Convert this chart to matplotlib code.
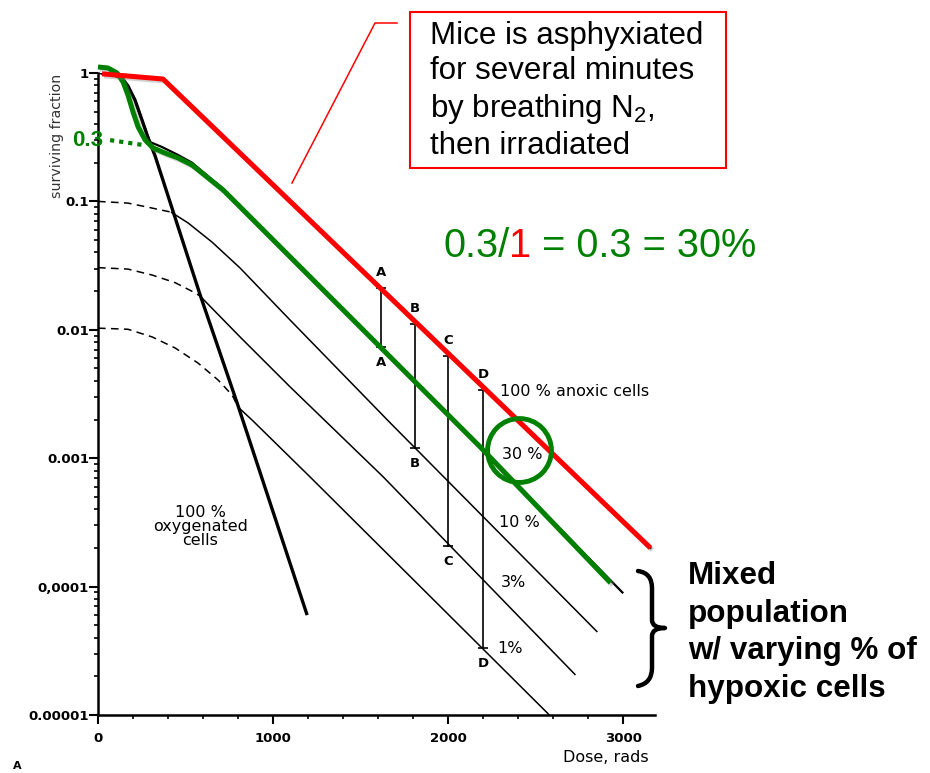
import matplotlib
matplotlib.use("Agg")
import matplotlib.pyplot as plt
import matplotlib.patheffects as pe
from matplotlib.patches import Rectangle, PathPatch
from matplotlib.path import Path
from matplotlib.lines import Line2D

plt.rcParams['font.family'] = ['DejaVu Sans']
plt.rcParams['mathtext.fontset'] = 'custom'
plt.rcParams['mathtext.rm'] = 'Liberation Sans'

# ---- survival curves: dose (rads) vs surviving fraction ----
oxy_dose = [15, 57, 137, 171, 211, 251, 286, 326, 583, 794, 1194]
oxy_sf = [1.0, 1.0, 0.914, 0.792, 0.616, 0.431, 0.312, 0.226, 0.0187, 0.0027, 6.0e-5]

anox_dose = [15, 200, 371, 3154]
anox_sf = [1.0, 0.955, 0.885, 2.0e-4]

red_dose = [23, 371, 3154]
red_sf = [0.985, 0.898, 2.0e-4]

mix30_dose = [15, 57, 137, 171, 211, 251, 297, 366, 457, 537, 594, 651, 714, 783,
              1611, 2183, 2994]
mix30_sf = [1.0, 1.0, 0.914, 0.792, 0.616, 0.431, 0.29, 0.265, 0.23, 0.20, 0.172, 0.148,
            0.126, 0.101, 0.00735, 0.00122, 9.0e-5]

green_dose = [0, 57, 109, 143, 171, 200, 229, 269, 314, 383, 457, 537, 594, 651, 714, 783,
              1611, 2183, 2926]
green_sf = [1.114, 1.094, 1.0, 0.851, 0.674, 0.497, 0.38, 0.301, 0.261, 0.238, 0.218,
            0.192, 0.1664, 0.144, 0.1228, 0.099, 0.00735, 0.00122, 1.07e-4]

mix10_dash_dose = [0, 171, 286, 417]
mix10_dash_sf = [0.1, 0.097, 0.0901, 0.0825]
mix10_dose = [417, 514, 651, 811, 1097, 1669, 2851]
mix10_sf = [0.0825, 0.068, 0.0482, 0.0303, 0.0119, 0.00188, 4.43e-5]

mix3_dash_dose = [0, 171, 309, 440, 554, 583]
mix3_dash_sf = [0.0305, 0.0297, 0.0267, 0.0233, 0.0194, 0.0183]
mix3_dose = [583, 811, 1097, 1629, 2726]
mix3_sf = [0.0183, 0.0088, 0.00359, 7.14e-4, 2.05e-5]

mix1_dash_dose = [0, 171, 309, 440, 571, 686, 766, 800]
mix1_dash_sf = [0.0103, 0.0101, 0.0088, 0.00722, 0.00551, 0.00406, 0.0031, 0.0025]
mix1_dose = [800, 880, 1211, 2577]
mix1_sf = [0.0025, 0.00198, 7.14e-4, 1.0e-5]

# vertical comparison bars
bar_names = ['A', 'B', 'C', 'D']
bar_dose = [1617, 1811, 2000, 2200]
bar_top = [0.0212, 0.0111, 0.00625, 0.0034]
bar_bottom = [0.00735, 0.0012, 2.07e-4, 3.33e-5]

curve_labels = ['100 % anoxic cells', '30 %', '10 %', '3%', '1%']
curve_label_dose = [2297, 2309, 2292, 2297, 2280]
curve_label_sf = [0.00328, 0.00106, 3.13e-4, 1.07e-4, 3.3e-5]

ratio_point = (2406, 0.00116)

x_ticks = [0, 1000, 2000, 3000]
y_ticks = [1e-5, 1e-4, 1e-3, 1e-2, 1e-1, 1]
y_tick_labels = ['0.00001', '0,0001', '0.001', '0.01', '0.1', '1']

GREEN = '#008000'
RED = '#ff0000'
W, H = 930, 773

fig = plt.figure(figsize=(W / 100, H / 100), dpi=100)
ax = fig.add_axes([98 / W, 1 - 715 / H, 557 / W, (715 - 73) / H])
ax.set_yscale('log')
ax.set_xlim(0, 3180)
ax.set_ylim(1e-5, 1)

thin = dict(color='black', lw=1.1, solid_capstyle='butt', solid_joinstyle='round')
dash = dict(color='black', lw=1.1, ls=(0, (5, 3.5)))

ax.plot(mix10_dash_dose, mix10_dash_sf, **dash)
ax.plot(mix10_dose, mix10_sf, **thin)
ax.plot(mix3_dash_dose, mix3_dash_sf, **dash)
ax.plot(mix3_dose, mix3_sf, **thin)
ax.plot(mix1_dash_dose, mix1_dash_sf, **dash)
ax.plot(mix1_dose, mix1_sf, **thin)
ax.plot(mix30_dose, mix30_sf, color='black', lw=1.6, solid_joinstyle='round')
ax.plot(anox_dose, anox_sf, color='black', lw=1.6, solid_joinstyle='round')
ax.plot(oxy_dose, oxy_sf, color='black', lw=2.4, solid_capstyle='butt',
        solid_joinstyle='round')

for name, d, t, b in zip(bar_names, bar_dose, bar_top, bar_bottom):
    ax.plot([d, d], [t, b], color='black', lw=1.2)
    ax.plot([d, d], [t, b], ls='none', marker='_', ms=7, mew=1.2, color='black')
    ax.annotate(name, (d, t), xytext=(0, 11), textcoords='offset points',
                ha='center', va='center', fontsize=9.5, fontweight='bold')
    ax.annotate(name, (d, b), xytext=(0, -11), textcoords='offset points',
                ha='center', va='center', fontsize=9.5, fontweight='bold')

shadow = [pe.SimpleLineShadow(offset=(1.5, -1.5), shadow_color='gray', alpha=0.35), pe.Normal()]
ax.plot(green_dose, green_sf, color=GREEN, lw=3.6, clip_on=False, path_effects=shadow,
        solid_capstyle='butt', solid_joinstyle='round')
ax.plot(red_dose, red_sf, color=RED, lw=3.6, clip_on=False, path_effects=shadow,
        solid_capstyle='butt', solid_joinstyle='round')

# dotted guide from the 0.3 level
ax.plot([69, 257], [0.30, 0.275], color=GREEN, lw=3, ls=(0, (1, 1.2)), clip_on=False)
ax.text(30, 0.30, '0.3', color=GREEN, fontsize=16, fontweight='bold', ha='right',
        va='center', family='Liberation Sans', clip_on=False)

ax.plot(*ratio_point, marker='o', ms=46, mfc='none', mec=GREEN, mew=3.5)

for lab, d, s in zip(curve_labels, curve_label_dose, curve_label_sf):
    ax.text(d, s, lab, fontsize=11.5, ha='left', va='center')

ax.text(583, 2.96e-4, '100 %\noxygenated\ncells', fontsize=11.5, ha='center', va='center',
        linespacing=0.92)

# axes styling
for side in ('top', 'right'):
    ax.spines[side].set_visible(False)
for side in ('left', 'bottom'):
    ax.spines[side].set_linewidth(1.8)
ax.set_xticks(x_ticks)
ax.set_xticks(range(200, 3200, 200), minor=True)
ax.set_yticks(y_ticks)
ax.set_yticklabels(y_tick_labels)
ax.tick_params(axis='both', which='major', direction='out', length=6.5, width=1.5,
               labelsize=9.5)
ax.tick_params(axis='both', which='minor', direction='out', length=3, width=1.2)
ax.tick_params(axis='y', which='major', pad=0)
ax.tick_params(axis='x', which='major', pad=6)
for t in ax.get_xticklabels() + ax.get_yticklabels():
    t.set_fontweight('bold')


def fx(px):
    return px / W


def fy(py):
    return 1 - py / H


fig.text(fx(57), fy(136), 'surviving fraction', rotation=90, ha='center', va='center',
         fontsize=10.2, color='#333333')
fig.text(fx(649), fy(758), 'Dose, rads', ha='right', va='center', fontsize=11.5)
fig.text(fx(17), fy(766), 'A', ha='center', va='center', fontsize=8, fontweight='bold')

# callout box
fig.patches.append(Rectangle((fx(410), fy(168)), (726 - 410) / W, (168 - 12) / H,
                             transform=fig.transFigure, fill=False, edgecolor=RED, lw=1.5))
fig.lines.append(Line2D([fx(397), fx(375), fx(292)], [fy(23), fy(23), fy(183)],
                        transform=fig.transFigure, color=RED, lw=1.1))
fig.text(fx(430), fy(21), 'Mice is asphyxiated\nfor several minutes\nby breathing N$_\\mathregular{2}$,\nthen irradiated',
         ha='left', va='top', fontsize=22.5, family='Liberation Sans', linespacing=1.23)

# ratio annotation
ratio_parts = [('0.3/', GREEN), ('1', RED), (' = 0.3 = 30%', GREEN)]
xpos = fx(443)
renderer = fig.canvas.get_renderer()
for txt, col in ratio_parts:
    t = fig.text(xpos, fy(257), txt, color=col, fontsize=28.6, family='Liberation Sans',
                 ha='left', va='baseline')
    bb = t.get_window_extent(renderer=renderer)
    xpos += bb.width / W

# brace for the mixed populations
brace_pts = [(638, 571), (652, 573), (652, 588), (652, 620), (652, 628), (665, 628),
             (652, 628), (652, 636), (652, 668), (652, 683), (638, 686)]
codes = [Path.MOVETO, Path.CURVE3, Path.CURVE3, Path.LINETO, Path.CURVE3, Path.CURVE3,
         Path.CURVE3, Path.CURVE3, Path.LINETO, Path.CURVE3, Path.CURVE3]
brace = Path([(fx(x), fy(y)) for x, y in brace_pts], codes)
fig.patches.append(PathPatch(brace, transform=fig.transFigure, fill=False, lw=3.2,
                             edgecolor='black', capstyle='round', joinstyle='round'))
fig.text(fx(688), fy(561), 'Mixed\npopulation\nw/ varying % of\nhypoxic cells', ha='left',
         va='top', fontsize=22.6, fontweight='bold', family='Liberation Sans',
         linespacing=1.33)

fig.savefig('out.png', dpi=100)
